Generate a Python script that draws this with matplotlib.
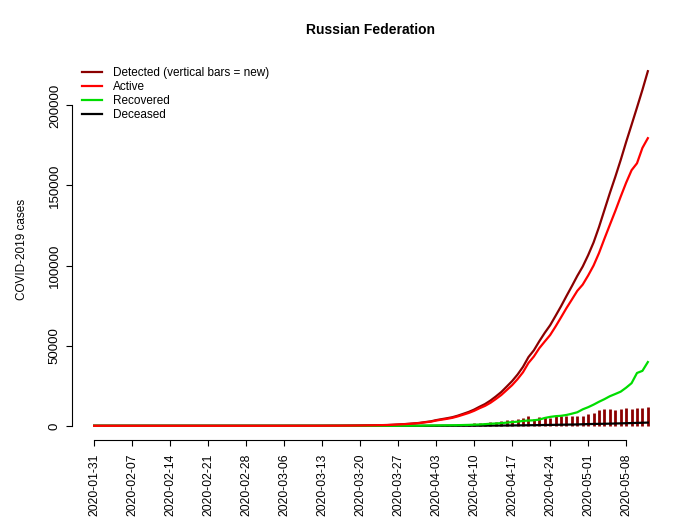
import numpy as np
import pandas as pd
import matplotlib
matplotlib.use('Agg')
import matplotlib.pyplot as plt
import matplotlib.dates as mdates

plt.rcParams['font.family'] = ['Liberation Sans', 'DejaVu Sans']

# daily values, 2020-01-31 .. 2020-05-12
dates = pd.date_range('2020-01-31', '2020-05-12')

confirmed = ([0] + [2] * 31 +
             [3, 3, 3, 4, 13, 13, 17, 17, 20, 20, 28, 45, 59, 63, 90, 114, 147, 199,
              253, 306, 367, 438, 495, 658, 840, 1036, 1264, 1534, 1836] +
             [2337, 2777, 3548, 4149, 4731, 5389, 6343, 7497, 8672, 10131,
              11917, 13584, 15770, 18328, 21102, 24490, 27938, 32008, 36793, 42853,
              47121, 52763, 57999, 62773, 68622, 74588, 80949, 87147, 93558, 99399] +
             [106498, 114431, 124054, 134686, 145268, 155370, 165929, 177160,
              187859, 198676, 209688, 221344])

recovered = ([0] * 10 + [2] * 39 +
             [9, 9, 9, 16, 16, 16, 22, 22, 49, 64, 64, 66] +
             [121, 190, 235, 281, 333, 355, 406, 494, 580, 698,
              830, 1045, 1291, 1470, 1694, 1986, 2304, 2590, 3057, 3291,
              3446, 3873, 4891, 5568, 6013, 6250, 6767, 7564, 8456, 10286] +
             [11619, 13220, 15013, 16639, 18466, 19865, 21327, 23803,
              26608, 32976, 34306, 39801])

deceased = ([0] * 49 +
            [1, 1, 1, 1, 1, 1, 3, 3, 3, 4, 8, 9] +
            [17, 24, 30, 34, 43, 45, 47, 58, 63, 76,
             94, 106, 130, 148, 170, 198, 232, 273, 313, 361,
             405, 456, 513, 555, 615, 681, 747, 794, 867, 972] +
            [1073, 1169, 1222, 1280, 1356, 1451, 1537, 1625,
             1723, 1827, 1915, 2009])

df = pd.DataFrame({'confirmed': confirmed, 'recovered': recovered,
                   'deceased': deceased}, index=dates)
df['active'] = df.confirmed - df.recovered - df.deceased
df['new'] = df.confirmed.diff().fillna(df.confirmed.iloc[0])

tick_dates = pd.date_range('2020-01-31', '2020-05-08', freq='7D')

fig = plt.figure(figsize=(7, 5.25), dpi=100)
ax = fig.add_axes([72 / 700, 1 - 440 / 525, 598 / 700, 383 / 525])

ax.vlines(df.index, 0, df['new'], color='#8b0000', lw=2.0)
ax.plot(df.index, df.confirmed, color='#8b0000', lw=1.6, label='Detected (vertical bars = new)')
ax.plot(df.index, df.deceased, color='black', lw=1.6, label='Deceased')
ax.plot(df.index, df.recovered, color='#00dd00', lw=1.6, label='Recovered')
ax.plot(df.index, df.active, color='#ff0000', lw=1.6, label='Active')

# R-like 4% padding
span = (df.index[-1] - df.index[0]) * 0.04
ax.set_xlim(df.index[0] - span, df.index[-1] + span)
ymax = df.confirmed.max()
ax.set_ylim(-0.04 * ymax, 1.04 * ymax)

for s in ['top', 'right']:
    ax.spines[s].set_visible(False)
ax.spines['left'].set_bounds(0, 200000)
ax.spines['bottom'].set_bounds(mdates.date2num(tick_dates[0]), mdates.date2num(tick_dates[-1]))

ax.set_yticks([0, 50000, 100000, 150000, 200000])
ax.set_yticklabels(['0', '50000', '100000', '150000', '200000'], rotation=90, va='center')
ax.set_xticks(tick_dates)
ax.set_xticklabels([d.strftime('%Y-%m-%d') for d in tick_dates], rotation=90)
ax.tick_params(axis='y', length=4.3, labelsize=9.5, pad=3.7)
ax.tick_params(axis='x', length=4.3, labelsize=8.8, pad=5.5)

handles, labels = ax.get_legend_handles_labels()
order = [0, 3, 2, 1]
ax.legend([handles[i] for i in order], [labels[i] for i in order],
          loc='upper left', bbox_to_anchor=(0.0, 1.0), frameon=False,
          fontsize=8.5, handlelength=1.7, handletextpad=0.9, labelspacing=0.18,
          borderaxespad=0.45)

fig.text(22 / 700, 1 - 249 / 525, 'COVID-2019 cases', rotation=90,
         ha='center', va='center', fontsize=8.5)
fig.text(371 / 700, 1 - 30 / 525, 'Russian Federation', ha='center', va='center',
         fontsize=10, fontweight='bold')

fig.savefig('out.png', dpi=100)
